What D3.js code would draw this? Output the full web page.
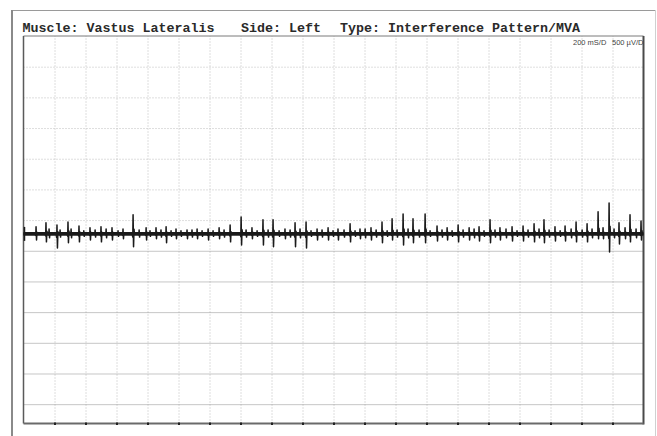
<!DOCTYPE html>
<html>
<head>
<meta charset="utf-8">
<script src="https://cdn.jsdelivr.net/npm/d3@7"></script>
<style>
  body { margin: 0; background: #fff; }
  svg { display: block; }
</style>
</head>
<body>
<div id="emg"></div>
<script>

// header texts
var titleParts = ["Muscle: Vastus Lateralis", "Side: Left", "Type: Interference Pattern/MVA"];
var scaleLabels = ["200 mS/D", "500 \u00b5V/D"];

// sweep settings: 20 divisions of 200 ms, 500 uV per division
var msPerDiv = 200, divisions = 20, uvPerDiv = 500;

// main motor unit spikes: time (ms), positive peak (uV), negative peak (uV)
var spikeTimes = [82, 146, 217, 288, 359, 430, 501, 572, 643, 708,
                  792, 856, 921, 985, 1056, 1121, 1192, 1263, 1334, 1405,
                  1475, 1546, 1611, 1688, 1753, 1824, 1895, 1966, 2030, 2108,
                  2172, 2243, 2314, 2379, 2450, 2514, 2592, 2669, 2734, 2805,
                  2876, 2940, 3011, 3075, 3153, 3224, 3295, 3359, 3430, 3495,
                  3566, 3637, 3708, 3779, 3843, 3914, 3985];
var spikeUp =    [115, 180, 145, 195, 130, 100, 115, 100, 80, 310,
                  100, 100, 115, 80, 65, 80, 80, 100, 145, 275,
                  100, 230, 230, 80, 180, 195, 80, 100, 80, 165,
                  80, 100, 195, 245, 325, 245, 325, 130, 100, 145,
                  100, 115, 230, 100, 115, 130, 165, 230, 115, 130,
                  195, 165, 360, 505, 180, 310, 210];
var spikeDown =  [100, 130, 230, 145, 130, 100, 130, 100, 80, 210,
                  100, 80, 145, 80, 80, 80, 100, 80, 130, 180,
                  80, 180, 210, 80, 210, 230, 100, 100, 100, 130,
                  80, 100, 145, 100, 180, 145, 145, 115, 100, 130,
                  100, 115, 145, 100, 115, 115, 130, 145, 115, 115,
                  130, 130, 80, 295, 165, 130, 100];

// smaller background deflections between the main spikes: time (ms), size (uV)
var minorTimes = [166, 237, 308, 390, 463, 534, 611, 747, 817, 888,
                  953, 1017, 1088, 1153, 1224, 1295, 1437, 1508, 1579, 1650,
                  1721, 1785, 1856, 1927, 1998, 2069, 2140, 2205, 2276, 2347,
                  2411, 2482, 2553, 2624, 2701, 2766, 2837, 2908, 2972, 3043,
                  3114, 3185, 3256, 3327, 3392, 3463, 3534, 3605, 3669, 3740,
                  3811, 3882, 3953];
var minorSize =  [80, 65, 80, 50, 65, 80, 50, 65, 50, 65,
                  50, 50, 65, 50, 50, 65, 65, 50, 65, 50,
                  65, 80, 50, 65, 50, 65, 50, 80, 65, 50,
                  65, 80, 65, 50, 65, 50, 65, 80, 50, 65,
                  80, 50, 65, 80, 65, 50, 80, 65, 80, 100,
                  80, 100, 80];

var width = 657, height = 436;
var box = {left: 23.5, top: 36, right: 643.5, bottom: 423.5};

var svg = d3.select("#emg")
  .append("svg")
    .attr("width", width)
    .attr("height", height);

// x: time, y: voltage (0 on the trace baseline)
var x = d3.scaleLinear()
  .domain([0, msPerDiv * divisions])
  .range([box.left, box.right]);
var y = d3.scaleLinear()
  .domain([3225, -3090])
  .range([box.top, box.bottom]);

// outer frame of the printout
svg.append("line").attr("x1", 11).attr("x2", 656).attr("y1", 10.5).attr("y2", 10.5)
  .attr("stroke", "#9a9a9a").attr("stroke-width", 1);
svg.append("line").attr("x1", 12).attr("x2", 12).attr("y1", 10).attr("y2", height)
  .attr("stroke", "#8a8a8a").attr("stroke-width", 2);
svg.append("line").attr("x1", 655.5).attr("x2", 655.5).attr("y1", 10).attr("y2", height)
  .attr("stroke", "#d0d0d0").attr("stroke-width", 1);

// vertical grid
var vGrid = svg.append("g")
  .attr("transform", "translate(0," + box.bottom + ")")
  .call(d3.axisBottom(x)
    .tickValues(d3.range(msPerDiv, msPerDiv * divisions, msPerDiv))
    .tickSize(-(box.bottom - box.top))
    .tickFormat(""));
vGrid.select(".domain").remove();
vGrid.selectAll("line")
  .attr("stroke", "#bdbdbd")
  .attr("stroke-dasharray", "1,2");

// horizontal grid
var hValues = d3.range(3225 - uvPerDiv, -3090, -uvPerDiv);
var hGrid = svg.append("g")
  .attr("transform", "translate(" + box.left + ",0)")
  .call(d3.axisLeft(y)
    .tickValues(hValues)
    .tickSize(-(box.right - box.left))
    .tickFormat(""));
hGrid.select(".domain").remove();
hGrid.selectAll("line")
  .attr("stroke", function(d) { return d < 0 ? "#8c8c8c" : "#bdbdbd"; })
  .attr("stroke-dasharray", function(d) { return d < 0 ? "1,1" : "1,2"; });

// plot box
svg.append("line").attr("x1", box.left).attr("x2", box.right).attr("y1", box.top).attr("y2", box.top)
  .attr("stroke", "#7a7a7a").attr("stroke-width", 1);
svg.append("line").attr("x1", box.left).attr("x2", box.left).attr("y1", box.top).attr("y2", box.bottom)
  .attr("stroke", "#5a5a5a").attr("stroke-width", 1.5);
svg.append("line").attr("x1", box.right).attr("x2", box.right).attr("y1", box.top).attr("y2", box.bottom + 1)
  .attr("stroke", "#4a4a4a").attr("stroke-width", 2);
svg.append("line").attr("x1", box.left).attr("x2", box.right).attr("y1", box.bottom).attr("y2", box.bottom)
  .attr("stroke", "#6a6a6a").attr("stroke-width", 2);

// small marks on the bottom edge
var marks = svg.append("g")
  .attr("transform", "translate(0," + (box.bottom - 1) + ")")
  .call(d3.axisBottom(x)
    .tickValues(d3.range(msPerDiv, msPerDiv * divisions, msPerDiv))
    .tickSize(2.5)
    .tickFormat(""));
marks.select(".domain").remove();
marks.selectAll("line").attr("stroke", "#222").attr("stroke-width", 2);

// trace: baseline with a bi-phasic deflection for every spike
var events = [];
spikeTimes.forEach(function(t, i) { events.push({t: t, up: spikeUp[i], down: spikeDown[i]}); });
minorTimes.forEach(function(t, i) { events.push({t: t, up: minorSize[i], down: minorSize[i] * 0.8}); });
events.sort(function(a, b) { return a.t - b.t; });

var trace = [[0, 0]];
events.forEach(function(e) {
  trace.push([e.t - 7, 0]);
  trace.push([e.t - 3, -e.down * 0.25]);
  trace.push([e.t - 1, e.up]);
  trace.push([e.t + 2, -e.down]);
  trace.push([e.t + 5, e.up * 0.25]);
  trace.push([e.t + 8, 0]);
});
trace.push([msPerDiv * divisions, 0]);

svg.append("line")
  .attr("x1", x(0)).attr("x2", x(msPerDiv * divisions))
  .attr("y1", y(0)).attr("y2", y(0))
  .attr("stroke", "#1a1a1a")
  .attr("stroke-width", 3.6);

svg.append("path")
  .datum(trace)
  .attr("fill", "none")
  .attr("stroke", "#1a1a1a")
  .attr("stroke-width", 1.5)
  .attr("stroke-linejoin", "round")
  .attr("d", d3.line()
    .x(function(d) { return x(d[0]); })
    .y(function(d) { return y(d[1]); }));

// trace start marker
svg.append("line")
  .attr("x1", x(0) + 1).attr("x2", x(0) + 1)
  .attr("y1", y(0) - 7).attr("y2", y(0) + 7)
  .attr("stroke", "#1a1a1a").attr("stroke-width", 1.5);

// header
var titleX = [22.5, 241, 340];
svg.selectAll(".title")
  .data(titleParts)
  .enter()
  .append("text")
    .attr("class", "title")
    .attr("x", function(d, i) { return titleX[i]; })
    .attr("y", 31.5)
    .attr("font-family", "'Liberation Mono', 'DejaVu Sans Mono', monospace")
    .attr("font-weight", "bold")
    .attr("font-size", "13.33px")
    .attr("fill", "#2a2a2a")
    .text(function(d) { return d; });

var scaleX = [573, 612];
svg.selectAll(".scale")
  .data(scaleLabels)
  .enter()
  .append("text")
    .attr("class", "scale")
    .attr("x", function(d, i) { return scaleX[i]; })
    .attr("y", 44.5)
    .attr("font-family", "'Liberation Sans Narrow', 'Liberation Sans', sans-serif")
    .attr("font-size", "7.5px")
    .attr("fill", "#444")
    .text(function(d) { return d; });

</script>
</body>
</html>
